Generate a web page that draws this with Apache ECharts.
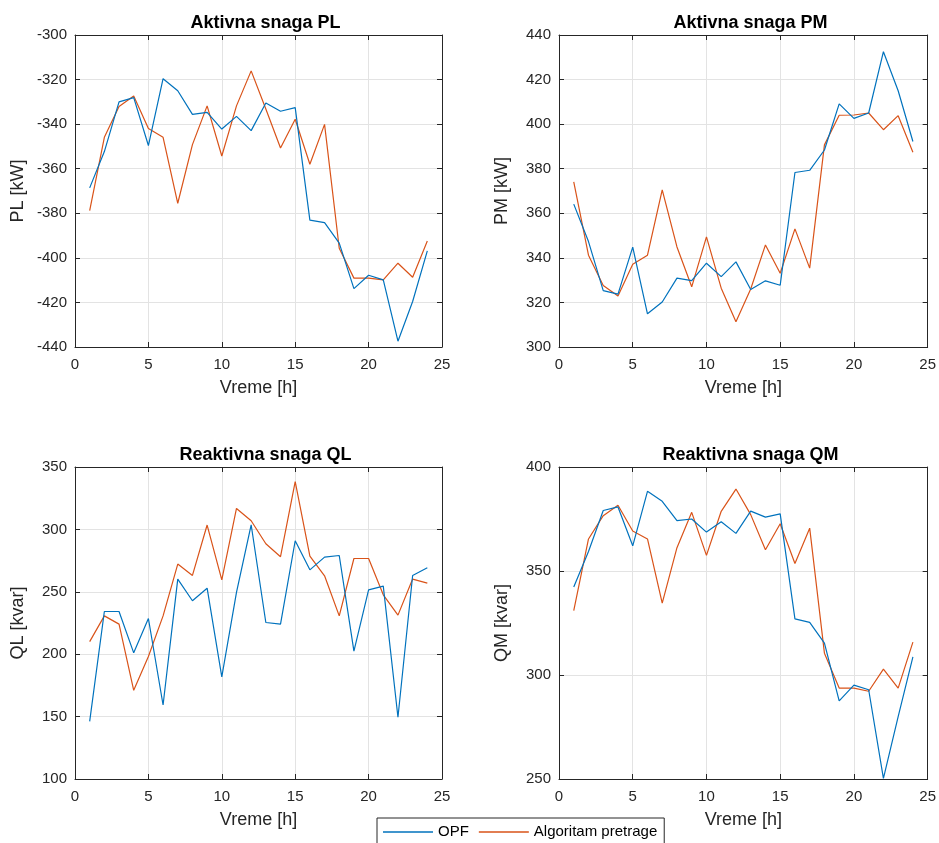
<!DOCTYPE html>
<html>
<head>
<meta charset="utf-8">
<script src="https://cdn.jsdelivr.net/npm/echarts@6/dist/echarts.min.js"></script>
<style>
  html, body { margin: 0; padding: 0; background: #fff; }
  #chart { width: 939px; height: 843px; }
</style>
</head>
<body>
<div id="chart"></div>
<script>
var hours = [1, 2, 3, 4, 5, 6, 7, 8, 9, 10, 11, 12, 13, 14, 15, 16, 17, 18, 19, 20, 21, 22, 23, 24];
var seriesNames = ['OPF', 'Algoritam pretrage'];

// aktivna snaga PL [kW]
var plOpf = [-368.6, -352.3, -330.0, -328.1, -349.6, -319.6, -325.0, -335.6, -334.7, -342.2, -336.5, -342.9,
  -330.5, -334.2, -332.6, -383.1, -384.2, -393.4, -413.8, -407.8, -409.9, -437.4, -419.6, -396.9];
var plAlg = [-378.8, -345.9, -332.1, -327.4, -342.0, -345.9, -375.5, -349.2, -331.8, -354.3, -331.8, -316.1,
  -333.2, -350.7, -337.8, -358.0, -340.1, -395.7, -409.1, -409.1, -409.9, -402.4, -408.7, -392.4];

// aktivna snaga PM [kW]
var pmOpf = [364.1, 347.3, 325.3, 323.7, 344.8, 314.9, 320.2, 330.9, 329.8, 337.6, 331.6, 338.2,
  325.8, 329.7, 327.7, 378.3, 379.3, 388.4, 409.1, 402.6, 405.0, 432.5, 415.0, 392.2];
var pmAlg = [374.1, 341.2, 327.6, 322.9, 337.1, 341.2, 370.5, 344.9, 327.0, 349.4, 326.4, 311.3,
  326.0, 345.8, 333.1, 353.0, 335.4, 390.7, 404.0, 404.1, 405.0, 397.5, 403.8, 387.4];

// reaktivna snaga QL [kvar]
var qlOpf = [146.2, 234.2, 234.2, 201.1, 228.6, 159.3, 260.2, 242.8, 252.9, 181.8, 249.5, 303.7,
  225.4, 224.1, 290.9, 267.6, 277.8, 279.1, 202.4, 251.6, 254.5, 149.5, 263.1, 269.2];
var qlAlg = [210.1, 230.7, 224.1, 171.1, 198.1, 230.7, 272.2, 263.1, 303.5, 259.6, 316.8, 306.9,
  288.5, 278.1, 338.2, 278.6, 262.8, 230.7, 276.7, 276.7, 247.6, 231.3, 260.2, 256.9];

// reaktivna snaga QM [kvar]
var qmOpf = [342.3, 359.4, 379.1, 380.8, 362.1, 388.3, 383.5, 374.2, 375.0, 368.7, 373.7, 368.1,
  378.8, 375.9, 377.5, 327.0, 325.3, 315.3, 287.6, 295.1, 292.9, 250.3, 280.0, 308.7];
var qmAlg = [331.0, 365.4, 376.6, 381.6, 369.2, 365.4, 334.6, 361.2, 378.2, 357.5, 378.7, 389.4,
  377.1, 360.2, 372.7, 353.6, 370.6, 310.5, 293.7, 293.7, 292.2, 302.8, 293.7, 315.8];

var titles = ['Aktivna snaga PL', 'Aktivna snaga PM', 'Reaktivna snaga QL', 'Reaktivna snaga QM'];
var yNames = ['PL [kW]', 'PM [kW]', 'QL [kvar]', 'QM [kvar]'];
var xName = 'Vreme [h]';
var xTicks = { min: 0, max: 25, interval: 5 };
var yTicks = [
  { min: -440, max: -300, interval: 20 },
  { min: 300, max: 440, interval: 20 },
  { min: 100, max: 350, interval: 50 },
  { min: 250, max: 400, interval: 50 }
];
var panelData = [[plOpf, plAlg], [pmOpf, pmAlg], [qlOpf, qlAlg], [qmOpf, qmAlg]];

var colors = ['#0072BD', '#D95319'];
var font = "'Liberation Sans', Arial, sans-serif";
var ink = '#262626';

// plot boxes (MATLAB subplot 2x2)
var boxes = [
  { left: 75, top: 35, width: 367, height: 312 },
  { left: 559, top: 35, width: 369, height: 312 },
  { left: 75, top: 467, width: 367, height: 312 },
  { left: 559, top: 467, width: 369, height: 312 }
];

var grids = [], xAxes = [], yAxes = [], series = [], titleList = [];

boxes.forEach(function (b, i) {
  grids.push({ left: b.left, top: b.top, width: b.width, height: b.height, containLabel: false });

  titleList.push({
    text: titles[i],
    left: b.left + b.width / 2 + 2,
    top: b.top - 26,
    textAlign: 'center',
    textStyle: { fontFamily: font, fontSize: 18, fontWeight: 'bold', color: '#000' }
  });

  // bottom x axis with labels
  xAxes.push({
    type: 'value', gridIndex: i, position: 'bottom',
    min: xTicks.min, max: xTicks.max, interval: xTicks.interval,
    name: xName, nameLocation: 'middle', nameGap: 32,
    nameTextStyle: { fontFamily: font, fontSize: 18, color: ink },
    axisLine: { onZero: false, lineStyle: { color: ink, width: 1 } },
    axisTick: { inside: true, length: 5, lineStyle: { color: ink } },
    axisLabel: { fontFamily: font, fontSize: 15, color: ink, margin: 10 },
    splitLine: { show: true, lineStyle: { color: '#e3e3e3', width: 1 } }
  });
  // top x axis, box edge only
  xAxes.push({
    type: 'value', gridIndex: i, position: 'top',
    min: xTicks.min, max: xTicks.max, interval: xTicks.interval,
    axisLine: { onZero: false, lineStyle: { color: ink, width: 1 } },
    axisTick: { inside: true, length: 5, lineStyle: { color: ink } },
    axisLabel: { show: false },
    splitLine: { show: false }
  });

  var yt = yTicks[i];
  yAxes.push({
    type: 'value', gridIndex: i, position: 'left',
    min: yt.min, max: yt.max, interval: yt.interval,
    name: yNames[i], nameLocation: 'middle', nameGap: 48, nameRotate: 90,
    nameTextStyle: { fontFamily: font, fontSize: 18, color: ink },
    axisLine: { show: true, onZero: false, lineStyle: { color: ink, width: 1 } },
    axisTick: { show: true, inside: true, length: 5, lineStyle: { color: ink } },
    axisLabel: { fontFamily: font, fontSize: 15, color: ink, margin: 8 },
    splitLine: { show: true, lineStyle: { color: '#e3e3e3', width: 1 } }
  });
  yAxes.push({
    type: 'value', gridIndex: i, position: 'right',
    min: yt.min, max: yt.max, interval: yt.interval,
    axisLine: { show: true, onZero: false, lineStyle: { color: ink, width: 1 } },
    axisTick: { show: true, inside: true, length: 5, lineStyle: { color: ink } },
    axisLabel: { show: false },
    splitLine: { show: false }
  });

  panelData[i].forEach(function (vals, k) {
    series.push({
      name: seriesNames[k],
      type: 'line',
      xAxisIndex: i * 2,
      yAxisIndex: i * 2,
      data: hours.map(function (h, j) { return [h, vals[j]]; }),
      symbol: 'none',
      color: colors[k],
      lineStyle: { width: 1.2, color: colors[k] },
      z: k === 0 ? 3 : 2,
      animation: false
    });
  });
});

var option = {
  backgroundColor: '#fff',
  animation: false,
  title: titleList,
  legend: {
    data: seriesNames.map(function (n) { return { name: n, icon: 'rect' }; }),
    left: 377, top: 818,
    orient: 'horizontal',
    borderColor: ink, borderWidth: 1, borderRadius: 0,
    padding: [6, 7, 8, 6],
    itemWidth: 50, itemHeight: 1.5, itemGap: 10,
    textStyle: { fontFamily: font, fontSize: 15, color: '#000', lineHeight: 16 }
  },
  grid: grids,
  xAxis: xAxes,
  yAxis: yAxes,
  series: series
};

var chart = echarts.init(document.getElementById('chart'));
chart.setOption(option);
</script>
</body>
</html>
